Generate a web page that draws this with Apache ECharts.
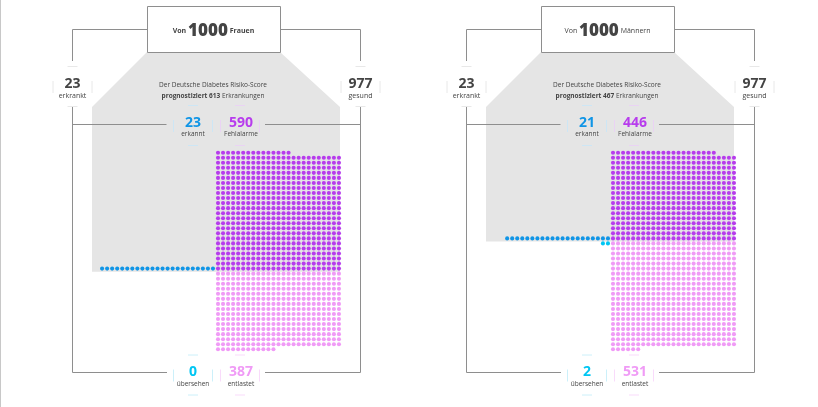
<!DOCTYPE html>
<html lang="de">
<head>
<meta charset="utf-8">
<style>html,body{margin:0;height:100%;background:#fff}#chart{width:818px;height:407px}</style>
</head>
<body>
<div id="chart"></div>
<script src="https://cdn.jsdelivr.net/npm/echarts@6/dist/echarts.min.js"></script>
<script>
// Daten je Panel: Frauen, Männer
var groups = ['Frauen', 'Männern'];
var total = [1000, 1000];
var erkrankt = [23, 23];
var gesund = [977, 977];
var prognose = [613, 467];
var erkannt = [23, 21];
var uebersehen = [0, 2];
var fehlalarme = [590, 446];
var entlastet = [387, 531];
var COLS = 25;

var C = {
  purple: '#b73ced', pink: '#f09bf6', blue: '#1095e6', cyan: '#00c6f3',
  text: '#444444', line: '#8e8e8e', gray: '#e5e5e5'
};
var FONT = '"Open Sans", "Noto Sans", sans-serif';
var STEP = 5.04;
var GRID_X0 = [218, 613];   // Pixel von Spalte 0
var ROW_Y0 = 152.7;
var DX = [0, 394];

var chart = echarts.init(document.getElementById('chart'), null, { renderer: 'canvas' });

function dots(i) {
  var pr = Math.ceil(fehlalarme[i] / COLS);
  var purple = [], pink = [], blue = [], cyan = [], k;
  // Fehlalarme von unten nach oben, angebrochene Reihe oben links
  for (k = 0; k < fehlalarme[i]; k++) purple.push([k % COLS, pr - 1 - Math.floor(k / COLS)]);
  // Entlastet von oben nach unten
  for (k = 0; k < entlastet[i]; k++) pink.push([k % COLS, pr + Math.floor(k / COLS)]);
  // erkannt: Reihe links neben der untersten Fehlalarm-Reihe
  for (k = 0; k < erkannt[i]; k++) blue.push([-1 - k, pr - 1]);
  for (k = 0; k < uebersehen[i]; k++) cyan.push([-1 - k, pr]);
  return { purple: purple, pink: pink, blue: blue, cyan: cyan, rows: pr };
}

var grids = [], xAxes = [], yAxes = [], series = [];
groups.forEach(function (g, i) {
  grids.push({ left: GRID_X0[i] - 24 * STEP, width: 48 * STEP, top: ROW_Y0, height: 39 * STEP });
  xAxes.push({ gridIndex: i, type: 'value', min: -24, max: 24, show: false });
  yAxes.push({ gridIndex: i, type: 'value', min: 0, max: 39, inverse: true, show: false });
  var d = dots(i);
  [['purple', d.purple], ['pink', d.pink], ['blue', d.blue], ['cyan', d.cyan]].forEach(function (s) {
    series.push({
      type: 'scatter', xAxisIndex: i, yAxisIndex: i, data: s[1],
      symbol: 'circle', symbolSize: 4.1, silent: true, animation: false, z: 5,
      itemStyle: { color: C[s[0]], opacity: 1 }
    });
  });
});

chart.setOption({
  animation: false,
  grid: grids, xAxis: xAxes, yAxis: yAxes, series: series
});

function line(x1, y1, x2, y2, color) {
  return { type: 'line', z: 3, silent: true, shape: { x1: x1, y1: y1, x2: x2, y2: y2 },
    style: { stroke: color || C.line, lineWidth: 1 } };
}
function txt(x, y, text, size, weight, color) {
  return { type: 'text', x: x, y: y, z: 10, silent: true,
    style: { text: text, fill: color, font: weight + ' ' + size + 'px ' + FONT, align: 'center', verticalAlign: 'middle' } };
}
function rich(x, y, text, richStyles) {
  return { type: 'text', x: x, y: y, z: 10, silent: true,
    style: { text: text, align: 'center', verticalAlign: 'middle', rich: richStyles } };
}
function marks(cx, cy, color, out) {
  out.push(line(cx - 5, cy - 20.5, cx + 5, cy - 20.5, color));
  out.push(line(cx - 5, cy + 19.5, cx + 5, cy + 19.5, color));
  out.push(line(cx - 19.5, cy - 6, cx - 19.5, cy + 6, color));
  out.push(line(cx + 19.5, cy - 6, cx + 19.5, cy + 6, color));
}

var graphic = [{ type: 'line', shape: { x1: 0.5, y1: 0, x2: 0.5, y2: 407 }, style: { stroke: '#c8c8c8', lineWidth: 1 } }];

groups.forEach(function (g, i) {
  var dx = DX[i];
  var pr = Math.ceil(fehlalarme[i] / COLS);
  var gb = chart.convertToPixel({ gridIndex: i }, [0, pr - 1 + 0.6])[1];
  var L = 72.5 + dx, R = 360.5 + dx;

  // grauer Trichter
  graphic.push({ type: 'polygon', z: 1, silent: true,
    shape: { points: [[147 + dx, 52], [280 + dx, 52], [340 + dx, 107], [340 + dx, gb], [92 + dx, gb], [92 + dx, 107]] },
    style: { fill: C.gray } });

  // Rahmen
  graphic.push({ type: 'rect', z: 4, silent: true, shape: { x: 147.5 + dx, y: 6.5, width: 133, height: 46 },
    style: { fill: '#fff', stroke: C.line, lineWidth: 1 } });
  graphic.push(line(L, 29.5, 147.5 + dx, 29.5));
  graphic.push(line(280.5 + dx, 29.5, R, 29.5));
  graphic.push(line(L, 29.5, L, 61));
  graphic.push(line(R, 29.5, R, 61));
  graphic.push(line(L, 107, L, 372.5));
  graphic.push(line(R, 107, R, 372.5));
  graphic.push(line(L, 124.5, 166.5 + dx, 124.5));
  graphic.push(line(265 + dx, 124.5, R, 124.5));
  graphic.push(line(L, 372.5, 167 + dx, 372.5));
  graphic.push(line(265 + dx, 372.5, R, 372.5));

  // Kopf
  var boxRich = i === 0
    ? { a: { fontSize: 7, fontWeight: 'bold', fontFamily: FONT, fill: C.text },
        b: { fontSize: 17, fontWeight: 900, fontFamily: FONT, fill: C.text } }
    : { a: { fontSize: 7, fontWeight: 'normal', fontFamily: FONT, fill: C.text },
        b: { fontSize: 17, fontWeight: 900, fontFamily: FONT, fill: C.text } };
  graphic.push(rich(213.5 + dx, 31, '{a|Von }{b|' + total[i] + '}{a| ' + g + '}', boxRich));

  // erkrankt / gesund
  graphic.push(txt(L, 84, String(erkrankt[i]), 14, 'bold', C.text));
  graphic.push(txt(L, 95.5, 'erkrankt', 7, 'normal', C.text));
  marks(L, 87, '#e8e8e8', graphic);
  graphic.push(txt(R, 84, String(gesund[i]), 14, 'bold', C.text));
  graphic.push(txt(R, 95.5, 'gesund', 7, 'normal', C.text));
  marks(R, 87, '#e8e8e8', graphic);

  // Prognose
  graphic.push(txt(213 + dx, 85, 'Der Deutsche Diabetes Risiko-Score', 6.5, 'normal', C.text));
  graphic.push(rich(213 + dx, 96, '{b|prognostiziert ' + prognose[i] + '}{a| Erkrankungen}', {
    a: { fontSize: 6.5, fontFamily: FONT, fill: C.text },
    b: { fontSize: 6.5, fontWeight: 'bold', fontFamily: FONT, fill: C.text }
  }));

  // erkannt / Fehlalarme
  var bx = 193 + dx, px = 241 + dx;
  graphic.push(txt(bx, 123.5, String(erkannt[i]), 14, 'bold', C.blue));
  graphic.push(txt(bx, 134.5, 'erkannt', 6.5, 'normal', C.text));
  marks(bx, 126, '#cde6f5', graphic);
  graphic.push(txt(px, 123.5, String(fehlalarme[i]), 14, 'bold', C.purple));
  graphic.push(txt(px, 134.5, 'Fehlalarme', 6.5, 'normal', C.text));
  marks(px - 1, 126, '#ead3f4', graphic);

  // übersehen / entlastet
  graphic.push(txt(bx, 372, String(uebersehen[i]), 14, 'bold', C.cyan));
  graphic.push(txt(bx, 384, 'übersehen', 6.5, 'normal', C.text));
  marks(bx, 375.5, '#ccf0fa', graphic);
  graphic.push(txt(px, 372, String(entlastet[i]), 14, 'bold', C.pink));
  graphic.push(txt(px, 384, 'entlastet', 6.5, 'normal', C.text));
  marks(px - 1, 375.5, '#f9dbfb', graphic);
});

chart.setOption({ graphic: graphic });
window.addEventListener('resize', chart.resize);
</script>
</body>
</html>
